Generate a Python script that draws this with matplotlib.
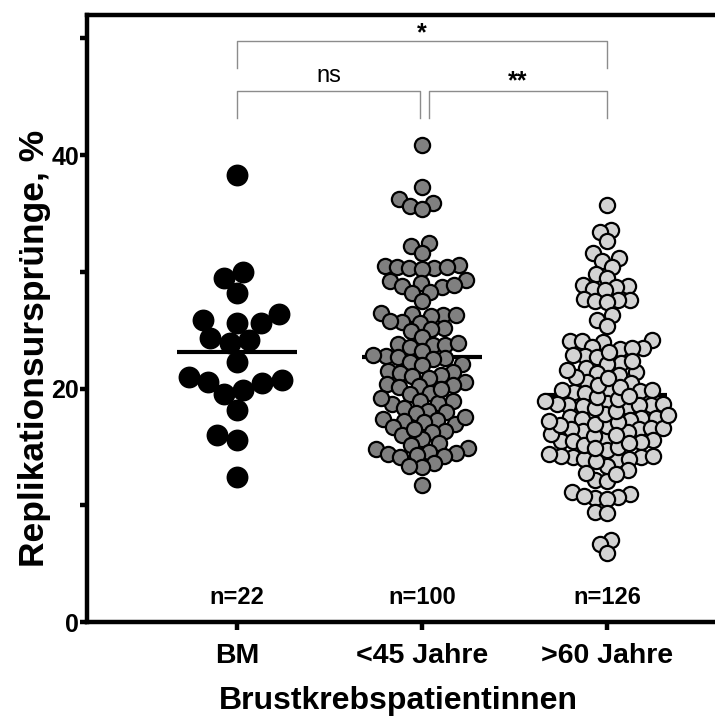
import numpy as np
import matplotlib
matplotlib.use('Agg')
import matplotlib.pyplot as plt

plt.rcParams['font.family'] = ['Liberation Sans', 'DejaVu Sans']

categories = ['BM', '<45 Jahre', '>60 Jahre']
n_labels = ['n=22', 'n=100', 'n=126']

bm_values = [38.3, 30.0, 29.5, 28.2, 26.4, 25.9, 25.6, 25.6, 24.3, 24.2, 23.9,
             22.3, 21.0, 20.5, 20.6, 20.7, 19.9, 19.5, 18.2, 16.0, 15.6, 12.4]

young_values = [40.9, 37.3, 36.2, 35.9, 35.6, 35.4, 32.5, 32.2, 31.6,
                30.6, 30.5, 30.4, 30.3, 30.3, 30.2, 30.4,
                29.3, 29.2, 29.0, 28.8, 28.7, 28.9, 28.3, 28.2, 27.5,
                26.3, 26.4, 26.2, 26.3, 26.5, 25.7, 25.8, 25.6, 25.2, 25.1, 24.9, 24.4,
                23.7, 23.8, 23.6, 23.7, 23.9, 23.2, 22.8, 22.9, 22.6, 22.5, 22.7, 22.3, 22.0, 22.1,
                21.4, 21.5, 21.3, 21.2, 21.1, 20.9, 20.6, 20.4, 20.2, 20.1, 20.3, 19.6, 19.5,
                18.9, 18.8, 18.7, 18.9,
                18.3, 18.0, 18.1, 17.9, 17.4, 17.3, 17.2, 17.0, 17.1, 16.7, 16.4, 16.3,
                16.0, 15.7, 15.3, 15.2, 14.9, 14.8, 14.6, 14.5, 14.4, 14.2, 14.1, 14.3,
                13.6, 13.3, 13.4, 11.7,
                17.6, 19.2, 20.0, 16.5]

old_values = [35.7, 33.6, 33.4, 32.6, 31.6, 31.2, 30.9, 30.4, 29.8, 29.5,
              28.9, 28.8, 28.7, 28.5, 28.4, 27.7, 27.6, 27.5, 27.6, 27.4, 26.3, 25.9, 25.4,
              24.2, 24.1, 24.0, 24.1, 23.6, 23.5, 23.4, 23.5, 22.8, 22.9, 22.7, 22.2, 22.1,
              21.8, 21.3, 21.2, 21.4, 20.6, 20.5, 19.8, 19.9, 19.7, 19.8, 19.6, 19.9,
              18.6, 18.7, 18.5, 18.6, 18.8, 18.4, 18.6, 18.7, 17.5, 17.6, 17.4, 17.5, 17.3,
              16.5, 16.4, 16.6, 16.5, 16.3, 16.6, 15.5, 15.6, 15.4, 15.5, 15.7,
              14.1, 14.0, 14.2, 14.1, 13.9, 14.2, 14.0,
              12.2, 12.1, 12.8, 11.1, 11.0, 10.6, 10.7, 10.5, 10.8, 9.4, 9.3, 7.0, 6.7, 5.9,
              13.0, 13.4, 13.8, 14.4, 14.7, 15.0, 15.2, 15.9, 16.1, 16.8,
              17.0, 17.1, 17.8, 18.1, 18.3, 19.1, 19.3, 20.1, 20.3, 20.9,
              21.0, 21.6, 22.4, 23.1, 15.3, 16.9, 17.7, 14.9, 16.0, 17.2,
              18.9, 19.4, 12.7]

y_ticks = [0, 10, 20, 30, 40, 50]
y_tick_labels = ['0', '', '20', '', '40', '']
sig_labels = ['*', 'ns', '**']

groups = [bm_values, young_values, old_values]
face_colors = ['#000000', '#808080', '#d3d3d3']
marker_sizes = [200, 120, 120]
collide_px = [20.0, 12.5, 11.8]

W, H = 715, 722
fig = plt.figure(figsize=(W / 100, H / 100), dpi=100)
ax_left, ax_bottom, ax_w, ax_h = 87, 100, 658.6, 607
ax = fig.add_axes([ax_left / W, ax_bottom / H, ax_w / W, ax_h / H])
ax.set_xlim(-0.81, 2.75)
ax.set_ylim(0, 52)

# pixel scale from the axes transform
p0 = ax.transData.transform((0, 0))
p1 = ax.transData.transform((1, 1))
xs_px = p1[0] - p0[0]
ys_px = p1[1] - p0[1]


def swarm_offsets(values, d):
    vals = np.asarray(values, dtype=float)
    order = np.argsort(vals)
    placed = []
    offs = np.zeros(len(vals))
    for i in order:
        y = vals[i] * ys_px
        cands = [0.0]
        for xp, yp in placed:
            dy = abs(y - yp)
            if dy < d:
                dx = np.sqrt(d * d - dy * dy)
                cands += [xp + dx, xp - dx]
        cands = sorted(cands, key=lambda c: (round(abs(c), 3), c))
        chosen = cands[-1]
        for c in cands:
            if all((c - xp) ** 2 + (y - yp) ** 2 >= d * d - 1e-6 for xp, yp in placed):
                chosen = c
                break
        placed.append((chosen, y))
        offs[i] = chosen / xs_px
    return offs


for i, vals in enumerate(groups):
    offs = swarm_offsets(vals, collide_px[i])
    ax.scatter(i + offs, vals, s=marker_sizes[i], c=face_colors[i],
               edgecolors='black', linewidths=1.6, zorder=3)
    m = np.mean(vals)
    ax.hlines(m, i - 0.325, i + 0.325, colors='black', linewidth=3, zorder=2)
    ax.text(i, 2.1, n_labels[i], ha='center', va='center', fontsize=17,
            fontweight='bold')

# significance brackets
brk_color = '#8c8c8c'
def bracket(x1, x2, y, h, label, ty, fs, fw):
    ax.plot([x1, x1, x2, x2], [y - h, y, y, y - h], color=brk_color, lw=1,
            clip_on=False, zorder=1)
    ax.text((x1 + x2) / 2, ty, label, ha='center', va='center', fontsize=fs,
            fontweight=fw)

bracket(0, 2, 49.8, 2.35, sig_labels[0], 50.4, 18, 'bold')
bracket(0, 0.99, 45.5, 2.35, sig_labels[1], 46.8, 17, 'normal')
bracket(1.04, 2, 45.5, 2.35, sig_labels[2], 46.3, 18, 'bold')

for side in ['left', 'bottom', 'top', 'right']:
    ax.spines[side].set_linewidth(3.2)

ax.set_yticks(y_ticks)
ax.set_yticklabels(y_tick_labels, fontsize=18, fontweight='bold')
ax.set_xticks(range(len(categories)))
ax.set_xticklabels(categories, fontsize=20.5, fontweight='bold')
ax.tick_params(axis='y', width=3.2, length=5, pad=0.5)
ax.tick_params(axis='x', width=3.2, length=6, pad=9)

ax.set_ylabel('Replikationsursprünge, %', fontsize=25.5, fontweight='bold')
ax.yaxis.set_label_coords((35 - ax_left) / ax_w, 0.451)
ax.yaxis.label.set_verticalalignment('center')
ax.set_xlabel('Brustkrebspatientinnen', fontsize=23, fontweight='bold')
ax.xaxis.set_label_coords((398 - ax_left) / ax_w, -(701 - 622) / ax_h)
ax.xaxis.label.set_verticalalignment('center')

fig.savefig('out.png', dpi=100)
